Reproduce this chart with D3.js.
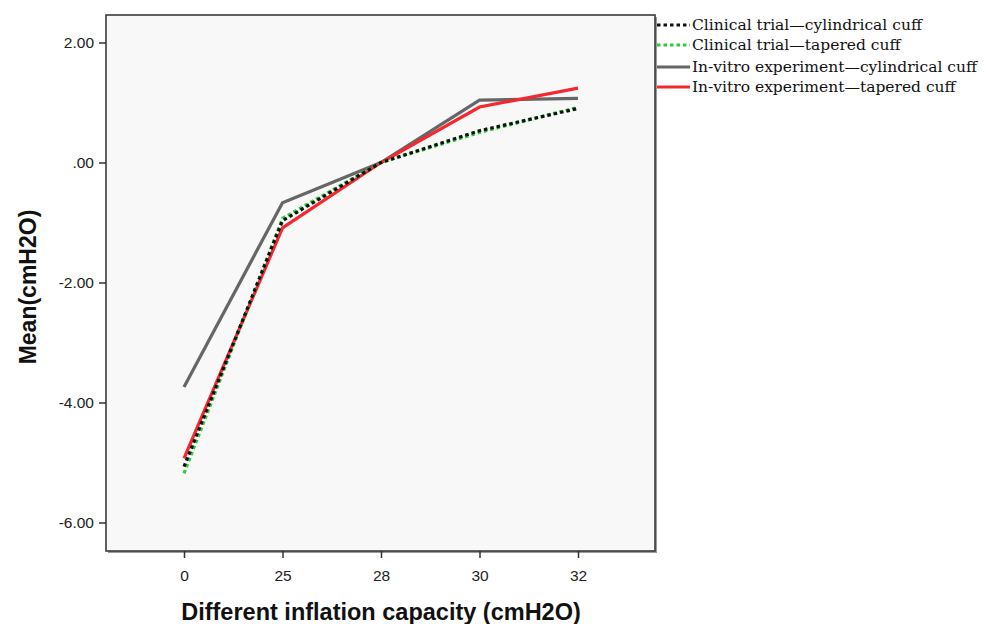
<!DOCTYPE html>
<html><head><meta charset="utf-8">
<script src="https://cdn.jsdelivr.net/npm/d3@7/dist/d3.min.js"></script>
<style>body{margin:0;background:#fff;} svg{display:block;}</style>
</head><body>
<svg id="c" width="989" height="624"></svg>
<script>
const categories = ["0", "25", "28", "30", "32"];
const yTicks = [2, 0, -2, -4, -6];
const seriesNames = [
  "Clinical trial\u2014cylindrical cuff",
  "Clinical trial\u2014tapered cuff",
  "In-vitro experiment\u2014cylindrical cuff",
  "In-vitro experiment\u2014tapered cuff"
];
const clinicalCylindrical = [-5.07, -0.97, 0.0, 0.53, 0.90];
const clinicalTapered     = [-5.18, -0.93, 0.0, 0.50, 0.92];
const vitroCylindrical    = [-3.74, -0.67, 0.0, 1.04, 1.07];
const vitroTapered        = [-4.93, -1.09, 0.0, 0.925, 1.24];

const series = [
  {name: seriesNames[2], values: vitroCylindrical, color: "#666666", dash: null},
  {name: seriesNames[3], values: vitroTapered, color: "#f4282e", dash: null},
  {name: seriesNames[1], values: clinicalTapered, color: "#2ecc40", dash: "3.5,3"},
  {name: seriesNames[0], values: clinicalCylindrical, color: "#111111", dash: "3.5,3"}
];
const legendOrder = [3, 2, 0, 1];

const svg = d3.select("#c");
const L = 106, T = 15, R = 655, B = 551;

const x = d3.scalePoint().domain(categories).range([184, 578]);
const y = d3.scaleLinear().domain([2, -6]).range([42.5, 522.5]);

// shadow
svg.append("rect").attr("x", L + 2).attr("y", T + 2).attr("width", R - L).attr("height", B - T)
  .attr("fill", "#9a9a9a");
svg.append("rect").attr("x", L).attr("y", T).attr("width", R - L).attr("height", B - T)
  .attr("fill", "#f8f8f8").attr("stroke", "#3a3a3a").attr("stroke-width", 1.6);

const fmt = d3.format(".2f");
// y axis
const yAxis = d3.axisLeft(y).tickValues(yTicks).tickSize(7).tickPadding(5)
  .tickFormat(d => d === 0 ? ".00" : fmt(d).replace("\u2212", "-"));
const gy = svg.append("g").attr("transform", `translate(${L},0)`).call(yAxis);
gy.select(".domain").remove();
gy.selectAll("line").attr("stroke", "#333").attr("stroke-width", 1.5);
gy.selectAll("text").attr("font-family", "Arial, 'Liberation Sans', sans-serif").attr("font-size", 15.5).attr("fill", "#222");

// x axis
const xAxis = d3.axisBottom(x).tickSize(7).tickPadding(12);
const gx = svg.append("g").attr("transform", `translate(0,${B})`).call(xAxis);
gx.select(".domain").remove();
gx.selectAll("line").attr("stroke", "#333").attr("stroke-width", 1.5);
gx.selectAll("text").attr("font-family", "Arial, 'Liberation Sans', sans-serif").attr("font-size", 15.5).attr("fill", "#222");

// lines
const line = d3.line().x((d, i) => x(categories[i])).y(d => y(d));
series.forEach(s => {
  svg.append("path").datum(s.values).attr("d", line)
    .attr("fill", "none").attr("stroke", s.color).attr("stroke-width", 3.2)
    .attr("stroke-dasharray", s.dash).attr("stroke-linejoin", "miter");
});

// axis titles
svg.append("text").attr("x", 381).attr("y", 620).attr("text-anchor", "middle")
  .attr("font-family", "Arial, 'Liberation Sans', sans-serif").attr("font-weight", "bold").attr("font-size", 23.5)
  .attr("fill", "#111").text("Different inflation capacity (cmH2O)");
svg.append("text").attr("transform", "translate(36,287) rotate(-90)").attr("text-anchor", "middle")
  .attr("font-family", "Arial, 'Liberation Sans', sans-serif").attr("font-weight", "bold").attr("font-size", 23)
  .attr("fill", "#111").text("Mean(cmH2O)");

// legend
const legY = [25, 45, 67, 87];
legendOrder.forEach((si, i) => {
  const s = series[si];
  svg.append("line").attr("x1", 657).attr("x2", 690).attr("y1", legY[i]).attr("y2", legY[i])
    .attr("stroke", s.color).attr("stroke-width", 3).attr("stroke-dasharray", s.dash);
  svg.append("text").attr("x", 692).attr("y", legY[i] + 5)
    .attr("font-family", "'DejaVu Serif', serif").attr("font-size", 15.5)
    .attr("fill", "#111").text(s.name);
});
</script>
</body></html>
